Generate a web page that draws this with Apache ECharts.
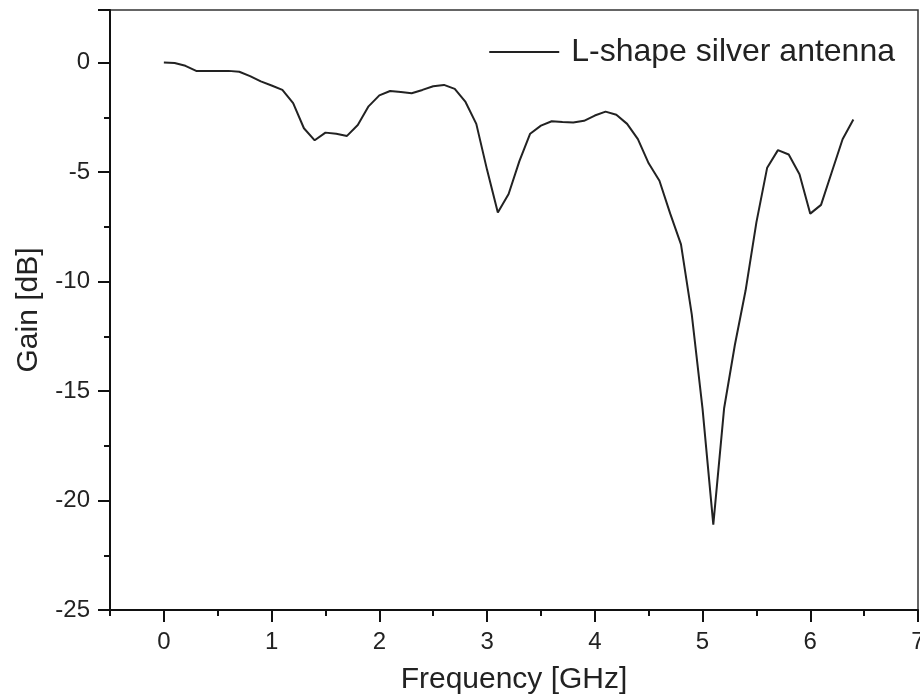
<!DOCTYPE html>
<html>
<head>
<meta charset="utf-8">
<script src="https://cdn.jsdelivr.net/npm/echarts@6/dist/echarts.min.js"></script>
<style>
html,body{margin:0;padding:0;background:#fff;}
#chart{width:920px;height:697px;}
</style>
</head>
<body>
<div id="chart"></div>
<script>
var seriesName = 'L-shape silver antenna';
var frequency = [0.0,0.1,0.2,0.3,0.4,0.5,0.6,0.7,0.8,0.9,
                 1.0,1.1,1.2,1.3,1.4,1.5,1.6,1.7,1.8,1.9,
                 2.0,2.1,2.2,2.3,2.4,2.5,2.6,2.7,2.8,2.9,
                 3.0,3.1,3.2,3.3,3.4,3.5,3.6,3.7,3.8,3.9,
                 4.0,4.1,4.2,4.3,4.4,4.5,4.6,4.7,4.8,4.9,
                 5.0,5.1,5.2,5.3,5.4,5.5,5.6,5.7,5.8,5.9,
                 6.0,6.1,6.2,6.3,6.4];
var gain = [0, -0.02, -0.15, -0.38, -0.38, -0.38, -0.38, -0.42, -0.62, -0.86,
            -1.05, -1.25, -1.85, -3.0, -3.55, -3.2, -3.25, -3.35, -2.85, -2.0,
            -1.5, -1.3, -1.35, -1.4, -1.25, -1.08, -1.02, -1.2, -1.8, -2.8,
            -4.9, -6.85, -6.0, -4.5, -3.25, -2.88, -2.68, -2.72, -2.74, -2.66,
            -2.42, -2.24, -2.38, -2.8, -3.5, -4.6, -5.4, -6.9, -8.3, -11.5,
            -15.8, -21.1, -15.8, -12.9, -10.4, -7.3, -4.8, -4.0, -4.2, -5.1,
            -6.9, -6.5, -5.0, -3.5, -2.6];
var xTicks = [0,1,2,3,4,5,6,7];
var xMinorTicks = [-0.5,0.5,1.5,2.5,3.5,4.5,5.5,6.5];
var yTicks = [-25,-20,-15,-10,-5,0];

var points = frequency.map(function(f, i){ return [f, gain[i]]; });
var font = 'Liberation Sans, Arial, sans-serif';
var chart = echarts.init(document.getElementById('chart'), null, {renderer:'canvas'});
chart.setOption({
  animation: false,
  backgroundColor: '#fff',
  grid: {left: 110, right: 2, top: 10, bottom: 87, containLabel: false, outerBoundsMode: 'none',
         show: true, borderColor: '#333', borderWidth: 1.5, backgroundColor: 'transparent'},
  legend: {
    data: [seriesName],
    right: 20, top: 31,
    itemWidth: 70, itemHeight: 14,
    textStyle: {fontFamily: font, fontSize: 32, color: '#222', padding: [0,0,0,7]},
    icon: 'path://M0,6 L70,6 L70,8 L0,8 Z',
    itemStyle: {color: '#222'}
  },
  xAxis: [{
    type: 'value', min: -0.5, max: 7,
    name: 'Frequency [GHz]', nameLocation: 'middle', nameGap: 55,
    nameTextStyle: {fontFamily: font, fontSize: 30, color: '#222'},
    axisLine: {show: true, onZero: false, lineStyle: {color: '#111', width: 2}},
    axisTick: {show: true, length: 12, customValues: xTicks, lineStyle: {color: '#111', width: 2}},
    axisLabel: {fontFamily: font, fontSize: 24, color: '#222', margin: 20, customValues: xTicks},
    splitLine: {show: false}
  }, {
    type: 'value', min: -0.5, max: 7, position: 'bottom', gridIndex: 0,
    axisLine: {show: false, onZero: false},
    axisTick: {show: true, length: 6, customValues: xMinorTicks, lineStyle: {color: '#111', width: 2}},
    axisLabel: {show: false},
    splitLine: {show: false}
  }],
  yAxis: {
    type: 'value', min: -25, max: 2.4, interval: 5,
    name: 'Gain [dB]', nameLocation: 'middle', nameGap: 66,
    nameTextStyle: {fontFamily: font, fontSize: 30, color: '#222'},
    axisLine: {show: true, onZero: false, lineStyle: {color: '#111', width: 2}},
    axisTick: {show: true, length: 12, lineStyle: {color: '#111', width: 2}},
    minorTick: {show: true, splitNumber: 2, length: 6, lineStyle: {color: '#111', width: 2}},
    axisLabel: {fontFamily: font, fontSize: 24, color: '#222', margin: 20,
      formatter: function(v){ return yTicks.indexOf(Math.round(v*1000)/1000) >= 0 ? String(v) : ''; }},
    splitLine: {show: false}
  },
  series: [{
    name: seriesName,
    type: 'line',
    xAxisIndex: 0,
    data: points,
    symbol: 'none',
    smooth: false,
    lineStyle: {color: '#222', width: 2},
    itemStyle: {color: '#222'}
  }]
});
</script>
</body>
</html>
